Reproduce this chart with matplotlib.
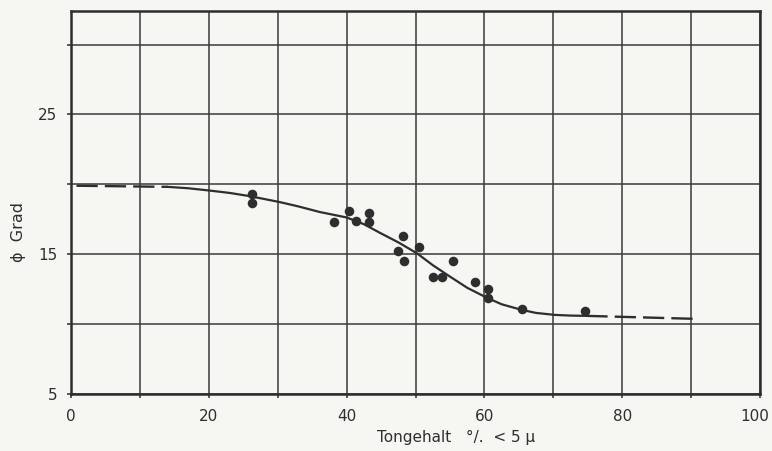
import matplotlib
matplotlib.use("Agg")
import matplotlib.pyplot as plt
import matplotlib.transforms as mtransforms

# measured points: clay content (%) vs friction angle (deg)
clay_pct = [26.3, 26.3, 38.1, 40.3, 41.4, 43.2, 43.2, 48.2, 47.5, 48.3,
            50.5, 52.6, 53.8, 55.4, 58.6, 60.5, 60.5, 65.4, 74.6]
phi_deg = [19.34, 18.68, 17.31, 18.11, 17.35, 17.93, 17.27, 16.32, 15.26, 14.5,
           15.53, 13.4, 13.4, 14.5, 13.0, 12.52, 11.9, 11.07, 10.97]

# fitted curve
left_dash_x = [0.8, 14.0]
left_dash_y = [19.9, 19.82]
curve_x = [14.0, 17.0, 20.2, 23.1, 26.0, 30.3, 33.0, 36.1, 40.0, 42.5, 44.8, 47.5,
           50.2, 52.5, 55.0, 57.5, 60.3, 62.5, 65.4, 67.5, 70.2, 72.5, 74.8]
curve_y = [19.82, 19.72, 19.55, 19.38, 19.15, 18.73, 18.42, 18.02, 17.63, 17.15,
           16.54, 15.85, 15.07, 14.22, 13.4, 12.6, 11.9, 11.42, 11.02, 10.8,
           10.66, 10.61, 10.59]
right_dash_x = [74.8, 90.3]
right_dash_y = [10.59, 10.38]

xticks_all = [0, 10, 20, 30, 40, 50, 60, 70, 80, 90, 100]
xtick_labels = ["0", "", "20", "", "40", "", "60", "", "80", "", "100"]
yticks_all = [5, 10, 15, 20, 25, 30]
ytick_labels = ["5", "", "15", "", "25", ""]

ink = "#2e2e2e"
paper = "#f6f6f3"

plt.rcParams['font.family'] = ['DejaVu Sans']
fig = plt.figure(figsize=(7.72, 4.51), dpi=100, facecolor=paper)
ax = fig.add_axes([71/772, 1-394/451, (760-71)/772, (394-11)/451], facecolor=paper)

ax.set_xlim(0, 100)
ax.set_ylim(5, 32.4)
ax.set_xticks(xticks_all)
ax.set_xticklabels(xtick_labels, fontsize=11, color=ink)
ax.set_yticks(yticks_all)
ax.set_yticklabels(ytick_labels, fontsize=11, color=ink)
ax.tick_params(axis='both', direction='out', length=3, width=1.1, color=ink)
ax.tick_params(axis='x', pad=8)
ax.tick_params(axis='y', pad=7)
ax.grid(True, color="#3a3a3a", linewidth=1.1)
ax.set_axisbelow(True)
for s in ax.spines.values():
    s.set_linewidth(1.8)
    s.set_color(ink)

# nudge the last x tick label so it stays inside the image
last = ax.get_xticklabels()[-1]
last.set_transform(last.get_transform() +
                   mtransforms.ScaledTranslation(-5/100, 0, fig.dpi_scale_trans))

ax.plot(left_dash_x, left_dash_y, color=ink, lw=1.7, dashes=(9, 3), zorder=3)
ax.plot(curve_x, curve_y, color=ink, lw=1.6, zorder=3)
ax.plot(right_dash_x, right_dash_y, color=ink, lw=1.7, dashes=(9, 3), zorder=3)
ax.plot(clay_pct, phi_deg, 'o', color=ink, markersize=6.9, zorder=4, markeredgewidth=0)

fig.text(377/772, 1-437/451, "Tongehalt   °/.  < 5 μ", fontsize=11, color=ink,
         ha='left', va='center')
fig.text(19/772, 1-232/451, "ϕ  Grad", fontsize=11.5, color=ink, rotation=90,
         ha='center', va='center')

fig.savefig("out.png", dpi=100, facecolor=paper)
